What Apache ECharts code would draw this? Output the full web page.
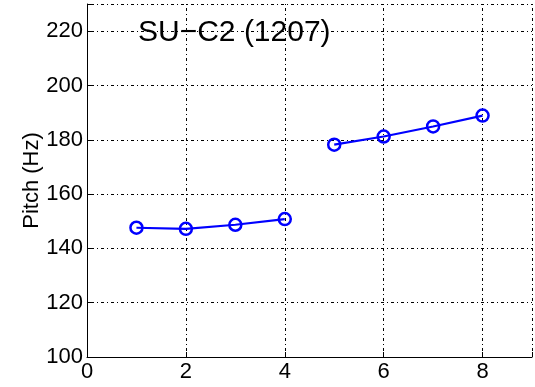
<!DOCTYPE html>
<html>
<head>
<meta charset="utf-8">
<script src="https://cdn.jsdelivr.net/npm/echarts@6/dist/echarts.min.js"></script>
<style>html,body{margin:0;padding:0;background:#fff;}#c{width:535px;height:387px;}</style>
</head>
<body>
<div id="c"></div>
<script>
var titleText = 'SU\u2212C2 (1207)';
var yAxisName = 'Pitch (Hz)';
var xGroup1 = [1, 2, 3, 4];
var yGroup1 = [147.6, 147.2, 148.7, 150.8];
var xGroup2 = [5, 6, 7, 8];
var yGroup2 = [178.2, 181.2, 184.9, 188.9];
var xTicks = [0, 2, 4, 6, 8];
var yTicks = [100, 120, 140, 160, 180, 200, 220];

function pairs(xs, ys) { return xs.map(function (x, i) { return [x, ys[i]]; }); }

var chart = echarts.init(document.getElementById('c'), null, {renderer: 'canvas'});
var font = 'Liberation Sans, Arial, sans-serif';
var lineStyleSeries = {color: '#0000ff', width: 2.2};
chart.setOption({
  animation: false,
  backgroundColor: '#fff',
  title: {
    text: titleText, left: 138, top: 18, padding: 0,
    textStyle: {fontFamily: font, fontSize: 30, fontWeight: 'normal', color: '#000'}
  },
  grid: {left: 87, right: 1, top: 4, bottom: 30, containLabel: false},
  xAxis: {
    type: 'value', min: 0, max: 9, interval: 2,
    axisLine: {show: true, onZero: false, lineStyle: {color: '#000', width: 1}},
    axisTick: {show: true, inside: true, length: 5, lineStyle: {color: '#000'}},
    axisLabel: {fontFamily: font, fontSize: 22, color: '#000', margin: 4,
      formatter: function (v) { return xTicks.indexOf(v) >= 0 ? String(v) : ''; }},
    splitLine: {show: true, lineStyle: {color: '#000', width: 1, type: [1, 3, 3, 3]}}
  },
  yAxis: {
    type: 'value', min: 100, max: 230, interval: 20,
    name: yAxisName, nameLocation: 'middle', nameGap: 44, nameMoveOverlap: false,
    nameTextStyle: {fontFamily: font, fontSize: 22, color: '#000'},
    axisLine: {show: true, onZero: false, lineStyle: {color: '#000', width: 1}},
    axisTick: {show: true, inside: true, length: 5, lineStyle: {color: '#000'}},
    axisLabel: {fontFamily: font, fontSize: 22, color: '#000', margin: 4,
      formatter: function (v) { return yTicks.indexOf(v) >= 0 ? String(v) : ''; }},
    splitLine: {show: true, lineStyle: {color: '#000', width: 1, type: [1, 3, 3, 3]}}
  },
  series: [
    {type: 'line', data: pairs(xGroup1, yGroup1), symbol: 'circle', symbolSize: 12,
      showAllSymbol: true,
      lineStyle: lineStyleSeries,
      itemStyle: {color: 'transparent', borderColor: '#0000ff', borderWidth: 2.5}},
    {type: 'line', data: pairs(xGroup2, yGroup2), symbol: 'circle', symbolSize: 12,
      showAllSymbol: true,
      lineStyle: lineStyleSeries,
      itemStyle: {color: 'transparent', borderColor: '#0000ff', borderWidth: 2.5}}
  ]
});
</script>
</body>
</html>
